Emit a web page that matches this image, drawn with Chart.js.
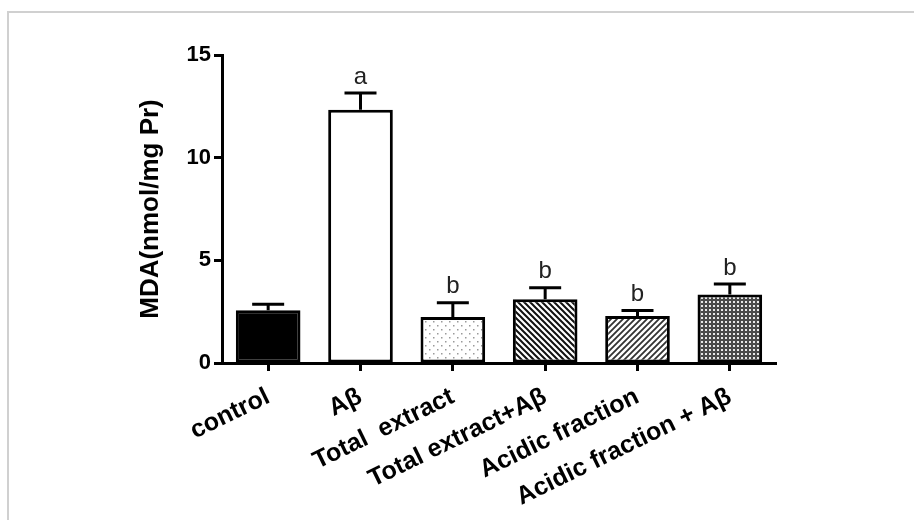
<!DOCTYPE html>
<html>
<head>
<meta charset="utf-8">
<script src="https://cdn.jsdelivr.net/npm/chart.js@4"></script>
<style>
  html, body { margin: 0; padding: 0; background: #fff; overflow: hidden; }
  #wrap { position: relative; width: 914px; height: 520px; }
  #frame { position: absolute; left: 7px; top: 11px; right: -10px; bottom: -10px;
           border-top: 2px solid #d0d0d0; border-left: 2px solid #d0d0d0; }
  #mdaChart { position: absolute; left: 0; top: 0; }
</style>
</head>
<body>
<div id="wrap">
  <div id="frame"></div>
  <canvas id="mdaChart" width="914" height="520"></canvas>
</div>
<script>
const categories = ['control', 'A\u03b2', 'Total  extract', 'Total extract+A\u03b2', 'Acidic fraction', 'Acidic fraction + A\u03b2'];
const mdaMean = [2.57, 12.33, 2.24, 3.11, 2.29, 3.34];
const mdaSem = [0.36, 0.89, 0.77, 0.63, 0.34, 0.58];
const sigLetters = ['', 'a', 'b', 'b', 'b', 'b'];
const yTicks = [0, 5, 10, 15];

// small tiles used as bar fills
function makeTile(size, draw) {
    let c = document.createElement('canvas');
    c.width = size; c.height = size;
    let g = c.getContext('2d');
    draw(g, size);
    return document.getElementById('mdaChart').getContext('2d').createPattern(c, 'repeat');
}

let dots = makeTile(8, (g, s) => {
    g.fillStyle = '#fff'; g.fillRect(0, 0, s, s);
    g.fillStyle = '#9a9a9a';
    g.fillRect(1, 1, 1.5, 1.5);
    g.fillRect(5, 5, 1.5, 1.5);
});

function hatch(forward, color, width) {
    return makeTile(6, (g, s) => {
        g.fillStyle = '#fff'; g.fillRect(0, 0, s, s);
        g.strokeStyle = color; g.lineWidth = width;
        g.beginPath();
        if (forward) {
            g.moveTo(-1, s + 1); g.lineTo(s + 1, -1);
            g.moveTo(-1, 1); g.lineTo(1, -1);
            g.moveTo(s - 1, s + 1); g.lineTo(s + 1, s - 1);
        } else {
            g.moveTo(-1, -1); g.lineTo(s + 1, s + 1);
            g.moveTo(-1, s - 1); g.lineTo(1, s + 1);
            g.moveTo(s - 1, -1); g.lineTo(s + 1, 1);
        }
        g.stroke();
    });
}

let checker = makeTile(4, (g, s) => {
    g.fillStyle = '#4a4a4a'; g.fillRect(0, 0, s, s);
    g.fillStyle = '#e8e8e8';
    g.fillRect(1, 1, 2, 2);
});

let fills = ['#000', '#fff', dots, hatch(false, '#111', 2), hatch(true, '#333', 1.8), checker];

const errorBars = {
    id: 'errorBars',
    afterDatasetsDraw(chart) {
        let ctx = chart.ctx;
        let y = chart.scales.y;
        let meta = chart.getDatasetMeta(0);
        ctx.save();
        ctx.strokeStyle = '#000';
        ctx.lineWidth = 3;
        meta.data.forEach((bar, i) => {
            let x = bar.x;
            let top = y.getPixelForValue(mdaMean[i] + mdaSem[i]);
            let base = y.getPixelForValue(mdaMean[i]);
            ctx.beginPath();
            ctx.moveTo(x, base);
            ctx.lineTo(x, top + 1.5);
            ctx.moveTo(x - 16, top + 1.5);
            ctx.lineTo(x + 16, top + 1.5);
            ctx.stroke();
            if (sigLetters[i]) {
                ctx.fillStyle = '#222';
                ctx.font = '24px "Liberation Sans", Arial, sans-serif';
                ctx.textAlign = 'center';
                ctx.textBaseline = 'alphabetic';
                ctx.fillText(sigLetters[i], x, top - 8);
            }
        });
        ctx.restore();
    }
};

let ctx = document.getElementById('mdaChart').getContext('2d');

let mdaChart = new Chart(ctx, {
    type: 'bar',
    data: {
        labels: categories,
        datasets: [{
            data: mdaMean,
            backgroundColor: fills,
            borderColor: '#000',
            borderWidth: 3,
            borderSkipped: false,
            barPercentage: 0.7,
            categoryPercentage: 1
        }]
    },
    options: {
        responsive: false,
        animation: false,
        layout: { padding: { top: 55, right: 138, left: 0, bottom: 0 } },
        plugins: { legend: { display: false }, tooltip: { enabled: false } },
        scales: {
            x: {
                afterFit(scale) { scale.height = 157; },
                border: { display: true, color: '#000', width: 3 },
                grid: { display: true, drawOnChartArea: false, offset: false, tickLength: 8, tickWidth: 3, tickColor: '#000' },
                ticks: {
                    maxRotation: 26, minRotation: 26,
                    color: '#000', padding: 11,
                    font: { family: '"Liberation Sans", Arial, sans-serif', size: 25, weight: 'bold' }
                }
            },
            y: {
                min: 0, max: 15,
                afterFit(scale) { scale.width = 222; },
                afterBuildTicks(scale) { scale.ticks = yTicks.map(v => ({ value: v })); },
                border: { display: true, color: '#000', width: 3 },
                grid: { display: true, drawOnChartArea: false, tickLength: 8, tickWidth: 3, tickColor: '#000' },
                ticks: {
                    color: '#000', padding: 3,
                    font: { family: '"Liberation Sans", Arial, sans-serif', size: 22, weight: 'bold' }
                },
                title: {
                    display: true,
                    text: 'MDA(nmol/mg Pr)',
                    color: '#000',
                    padding: { top: 135, bottom: 0 },
                    font: { family: '"Liberation Sans", Arial, sans-serif', size: 26, weight: 'bold' }
                }
            }
        }
    },
    plugins: [errorBars]
});
</script>
</body>
</html>
